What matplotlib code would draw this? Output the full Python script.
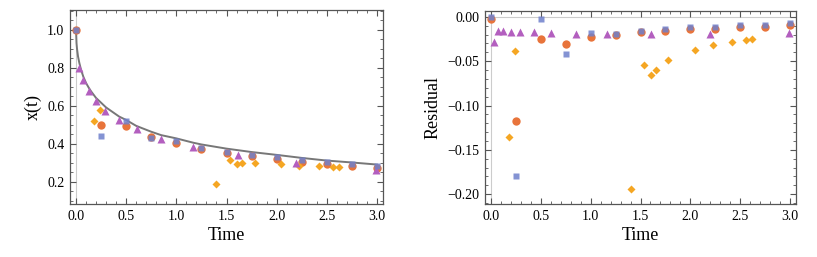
import matplotlib
matplotlib.use("Agg")
import matplotlib.pyplot as plt
from matplotlib.ticker import MultipleLocator

plt.rcParams['font.family'] = ['Liberation Serif', 'DejaVu Serif']

# fitted curve
curve_t = [0, 0.005, 0.01, 0.02, 0.033, 0.05, 0.073, 0.1, 0.127, 0.15, 0.2, 0.3, 0.43,
           0.5, 0.6, 0.75, 0.85, 1.0, 1.17, 1.25, 1.5, 1.75, 2.0, 2.25, 2.5, 2.75, 3.0]
curve_x = [1.0, 0.93, 0.90, 0.86, 0.826, 0.79, 0.753, 0.72, 0.695, 0.676, 0.641, 0.591, 0.543,
           0.525, 0.494, 0.463, 0.445, 0.428, 0.405, 0.396, 0.374, 0.356, 0.341, 0.325, 0.311, 0.301, 0.29]

# orange circles / blue squares share the same time grid
grid_t = [0, 0.25, 0.5, 0.75, 1.0, 1.25, 1.5, 1.75, 2.0, 2.25, 2.5, 2.75, 3.0]
circ_x = [0.998, 0.497, 0.495, 0.434, 0.403, 0.372, 0.35, 0.335, 0.32, 0.305, 0.292, 0.283, 0.272]
sq_x = [1.0, 0.442, 0.522, 0.428, 0.412, 0.379, 0.358, 0.342, 0.329, 0.314, 0.302, 0.293, 0.283]
circ_res = [-0.002, -0.117, -0.025, -0.031, -0.023, -0.020, -0.0176, -0.0158, -0.0142, -0.0135, -0.012, -0.012, -0.0097]
sq_res = [0.0, -0.179, -0.003, -0.042, -0.018, -0.0195, -0.016, -0.014, -0.0116, -0.011, -0.009, -0.009, -0.0071]

# purple triangles
tri_t = [0.03, 0.07, 0.125, 0.197, 0.292, 0.428, 0.607, 0.848, 1.167, 1.61, 2.197, 2.99]
tri_x = [0.798, 0.736, 0.678, 0.624, 0.574, 0.525, 0.476, 0.427, 0.381, 0.341, 0.30, 0.262]
tri_res = [-0.028, -0.0165, -0.0165, -0.017, -0.017, -0.0175, -0.018, -0.0195, -0.0195, -0.0195, -0.0195, -0.0187]

# yellow diamonds
dia_t = [0.178, 0.243, 1.40, 1.535, 1.603, 1.653, 1.78, 2.043, 2.223, 2.42, 2.563, 2.62]
dia_x = [0.52, 0.578, 0.188, 0.313, 0.293, 0.30, 0.30, 0.292, 0.284, 0.283, 0.279, 0.279]
dia_res = [-0.135, -0.039, -0.194, -0.054, -0.066, -0.060, -0.049, -0.038, -0.032, -0.028, -0.026, -0.0248]

c_circ = '#E8743B'
c_sq = '#6F80CC'
c_tri = '#B35FBF'
c_dia = '#F5A623'

fig = plt.figure(figsize=(8.17, 2.57), dpi=100)
ax1 = fig.add_axes([70/817, 53/257, 313/817, 194/257])
ax2 = fig.add_axes([485/817, 53/257, 311/817, 193/257])


def style(ax):
    for s in ax.spines.values():
        s.set_color('#555555')
        s.set_linewidth(0.9)
    ax.tick_params(which='both', direction='in', top=True, right=True,
                   color='#555555', labelsize=10, pad=4)
    ax.tick_params(which='major', length=4, width=0.8)
    ax.tick_params(which='minor', length=2, width=0.6)
    ax.xaxis.set_major_locator(MultipleLocator(0.5))
    ax.xaxis.set_minor_locator(MultipleLocator(0.1))
    ax.set_xlim(-0.06, 3.06)
    ax.set_xlabel('Time', fontsize=13, labelpad=3)


def points(ax, circ, sq, tri, dia):
    ax.plot(grid_t, circ, 'o', color=c_circ, ms=6, mec='none', zorder=3)
    ax.plot(dia_t, dia, 'D', color=c_dia, ms=4.5, mec='none', zorder=4)
    ax.plot(tri_t, tri, '^', color=c_tri, ms=6, mec='none', zorder=5)
    ax.plot(grid_t, sq, 's', color=c_sq, ms=4.2, mec='none', alpha=0.85, zorder=6)


# left panel
style(ax1)
ax1.axvline(0, color='#cccccc', lw=0.8, zorder=1)
ax1.plot(curve_t, curve_x, color='#777777', lw=1.4, zorder=2)
points(ax1, circ_x, sq_x, tri_x, dia_x)
ax1.set_ylim(0.082, 1.105)
ax1.yaxis.set_major_locator(MultipleLocator(0.2))
ax1.yaxis.set_minor_locator(MultipleLocator(0.05))
ax1.set_ylabel('x(t)', fontsize=13, labelpad=4)

# right panel
style(ax2)
ax2.axvline(0, color='#cccccc', lw=0.8, zorder=1)
ax2.axhline(0, color='#cccccc', lw=0.8, zorder=1)
points(ax2, circ_res, sq_res, tri_res, dia_res)
ax2.set_ylim(-0.211, 0.0065)
ax2.yaxis.set_major_locator(MultipleLocator(0.05))
ax2.yaxis.set_minor_locator(MultipleLocator(0.01))
ax2.yaxis.set_major_formatter(plt.FuncFormatter(lambda v, p: ('%.2f' % v).replace('-', '\u2212')))
ax2.set_ylabel('Residual', fontsize=13, labelpad=4)

fig.savefig('out.png', dpi=100)
